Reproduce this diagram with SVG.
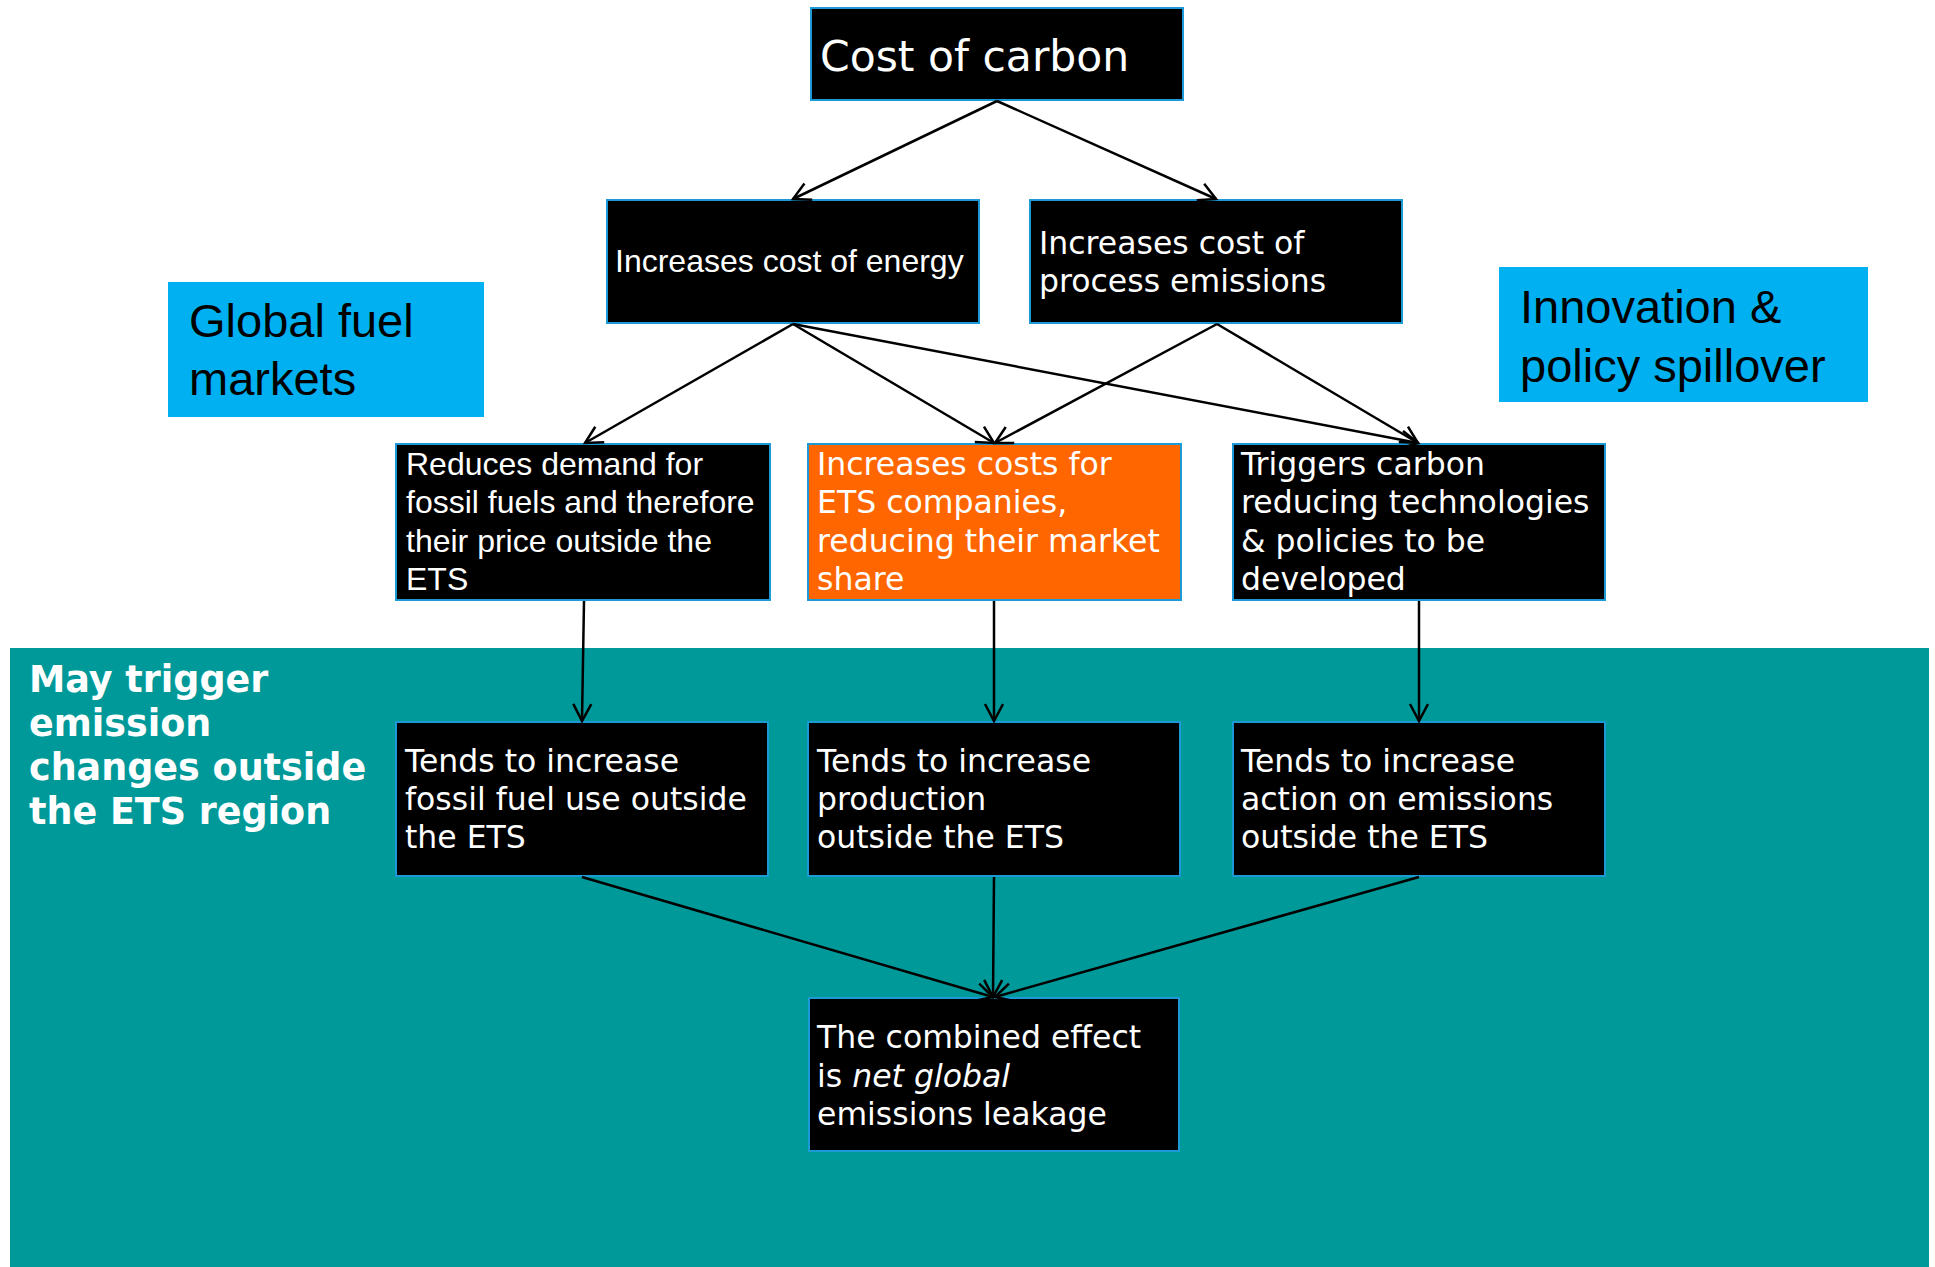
<svg xmlns="http://www.w3.org/2000/svg" width="1935" height="1267" viewBox="0 0 1935 1267">
<defs>
<marker id="arr" markerUnits="userSpaceOnUse" markerWidth="40" markerHeight="40" viewBox="-20 -20 40 40" refX="0" refY="0" orient="auto">
<path d="M-17,-9 L0,0 L-17,9" fill="none" stroke="#000" stroke-width="2.5"/>
</marker>
<style>
.box{fill:#000;stroke:#1B9AD6;stroke-width:2}
.orange{fill:#FF6600;stroke:#1B9AD6;stroke-width:2}
.label{fill:#00B0F0}
.v{font-family:"DejaVu Sans",Verdana,sans-serif;fill:#fff;font-size:31.5px}
.a{font-family:"Liberation Sans",Arial,sans-serif;fill:#fff;font-size:32px}
.big{font-family:"Liberation Sans",Arial,sans-serif;fill:#000;font-size:47px}
.title{font-family:"DejaVu Sans",Verdana,sans-serif;fill:#fff;font-size:42.5px}
.region{font-family:"DejaVu Sans",Verdana,sans-serif;font-weight:bold;font-size:36.5px;fill:#fff}
.conn line{stroke:#000;stroke-width:2.5;marker-end:url(#arr)}
</style>
</defs>
<rect x="0" y="0" width="1935" height="1267" fill="#fff"/>
<rect id="region" x="10" y="648" width="1919" height="619" fill="#009999"/>
<text class="region">
<tspan x="29" y="692">May trigger</tspan>
<tspan x="29" y="736">emission</tspan>
<tspan x="29" y="780">changes outside</tspan>
<tspan x="29" y="824">the ETS region</tspan>
</text>

<g id="global-fuel">
<rect class="label" x="168" y="282" width="316" height="135"/>
<text class="big"><tspan x="189" y="337">Global fuel</tspan><tspan x="189" y="395">markets</tspan></text>
</g>
<g id="innovation">
<rect class="label" x="1499" y="267" width="369" height="135"/>
<text class="big"><tspan x="1520" y="323">Innovation &amp;</tspan><tspan x="1520" y="382">policy spillover</tspan></text>
</g>

<g id="cost-of-carbon">
<rect class="box" x="811" y="8" width="372" height="92"/>
<text class="title" x="820" y="71">Cost of carbon</text>
</g>
<g id="energy">
<rect class="box" x="607" y="200" width="372" height="123"/>
<text class="a" x="615" y="272">Increases cost of energy</text>
</g>
<g id="process">
<rect class="box" x="1030" y="200" width="372" height="123"/>
<text class="v"><tspan x="1039" y="254">Increases cost of</tspan><tspan x="1039" y="292">process emissions</tspan></text>
</g>
<g id="reduces">
<rect class="box" x="396" y="444" width="374" height="156"/>
<text class="a"><tspan x="406" y="475">Reduces demand for</tspan><tspan x="406" y="513">fossil fuels and therefore</tspan><tspan x="406" y="552">their price outside the</tspan><tspan x="406" y="590">ETS</tspan></text>
</g>
<g id="increases-costs">
<rect class="orange" x="808" y="444" width="373" height="156"/>
<text class="v"><tspan x="817" y="475">Increases costs for</tspan><tspan x="817" y="513">ETS companies,</tspan><tspan x="817" y="552">reducing their market</tspan><tspan x="817" y="590">share</tspan></text>
</g>
<g id="triggers">
<rect class="box" x="1233" y="444" width="372" height="156"/>
<text class="v"><tspan x="1241" y="475">Triggers carbon</tspan><tspan x="1241" y="513">reducing technologies</tspan><tspan x="1241" y="552">&amp; policies to be</tspan><tspan x="1241" y="590">developed</tspan></text>
</g>
<g id="tends-fossil">
<rect class="box" x="396" y="722" width="372" height="154"/>
<text class="v"><tspan x="405" y="772">Tends to increase</tspan><tspan x="405" y="810">fossil fuel use outside</tspan><tspan x="405" y="848">the ETS</tspan></text>
</g>
<g id="tends-production">
<rect class="box" x="808" y="722" width="372" height="154"/>
<text class="v"><tspan x="817" y="772">Tends to increase</tspan><tspan x="817" y="810">production</tspan><tspan x="817" y="848">outside the ETS</tspan></text>
</g>
<g id="tends-action">
<rect class="box" x="1233" y="722" width="372" height="154"/>
<text class="v"><tspan x="1241" y="772">Tends to increase</tspan><tspan x="1241" y="810">action on emissions</tspan><tspan x="1241" y="848">outside the ETS</tspan></text>
</g>
<g id="combined">
<rect class="box" x="809" y="998" width="370" height="153"/>
<text class="v"><tspan x="817" y="1048">The combined effect</tspan><tspan x="817" y="1087">is <tspan font-style="italic">net global</tspan></tspan><tspan x="817" y="1125">emissions leakage</tspan></text>
</g>

<g id="connectors" class="conn">
<line x1="997" y1="101" x2="793" y2="199"/>
<line x1="997" y1="101" x2="1216" y2="199"/>
<line x1="793" y1="324" x2="585" y2="443"/>
<line x1="793" y1="324" x2="994" y2="443"/>
<line x1="793" y1="324" x2="1418" y2="443"/>
<line x1="1217" y1="324" x2="995" y2="443"/>
<line x1="1217" y1="324" x2="1418" y2="443"/>
<line x1="584" y1="601" x2="582" y2="721"/>
<line x1="994" y1="601" x2="994" y2="721"/>
<line x1="1419" y1="601" x2="1419" y2="721"/>
<line x1="582" y1="877" x2="993" y2="997"/>
<line x1="994" y1="877" x2="993" y2="997"/>
<line x1="1419" y1="877" x2="995" y2="997"/>
</g>
</svg>
